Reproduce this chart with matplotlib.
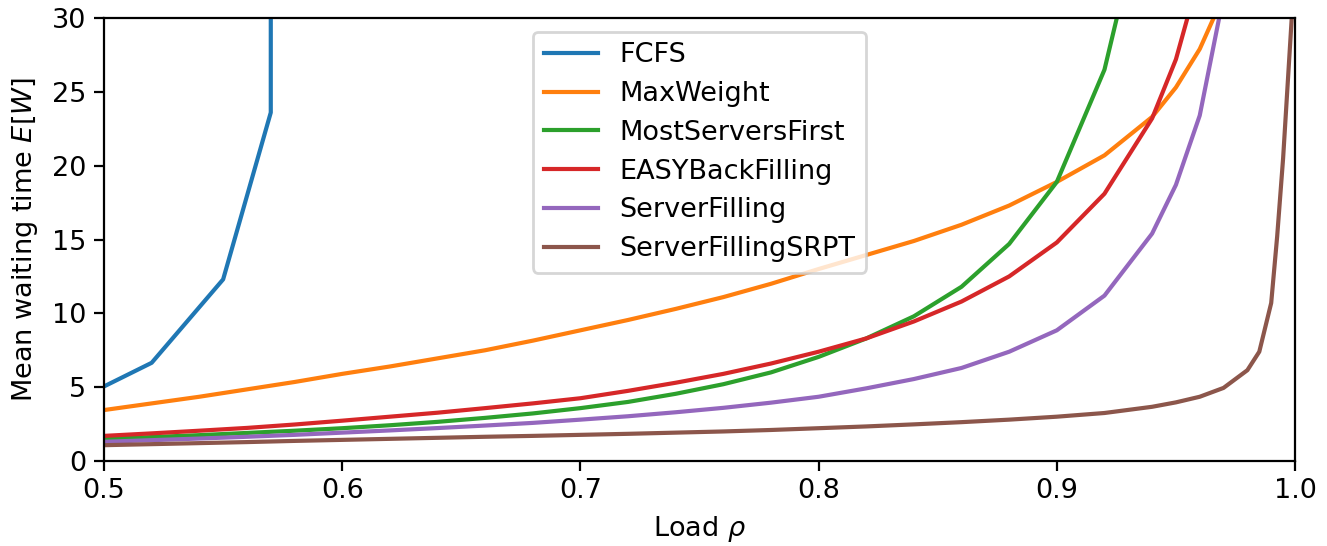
import numpy as np
import matplotlib
matplotlib.use("Agg")
import matplotlib.pyplot as plt

grid = [0.50, 0.52, 0.54, 0.56, 0.58, 0.60, 0.62, 0.64, 0.66, 0.68, 0.70,
        0.72, 0.74, 0.76, 0.78, 0.80, 0.82, 0.84, 0.86, 0.88, 0.90, 0.92, 0.94]

fcfs_x = [0.50, 0.52, 0.55, 0.57, 0.5701]
fcfs_y = [5.05, 6.65, 12.3, 23.6, 200.0]

maxweight_x = grid + [0.95, 0.96, 0.97]
maxweight_y = [3.45, 3.9, 4.35, 4.85, 5.35, 5.9, 6.4, 6.95, 7.5, 8.15, 8.85,
               9.55, 10.3, 11.1, 12.0, 13.0, 13.95, 14.9, 16.0, 17.3, 18.9, 20.7, 23.3,
               25.3, 27.9, 31.5]

msf_x = grid
msf_y = [1.5, 1.62, 1.75, 1.9, 2.05, 2.22, 2.42, 2.65, 2.92, 3.22, 3.58,
         4.0, 4.55, 5.2, 6.0, 7.05, 8.3, 9.8, 11.8, 14.7, 18.9, 26.5, 40.0]

easy_x = grid + [0.95, 0.96]
easy_y = [1.7, 1.87, 2.05, 2.24, 2.47, 2.73, 3.0, 3.27, 3.58, 3.9, 4.25,
          4.75, 5.3, 5.9, 6.6, 7.4, 8.3, 9.45, 10.8, 12.5, 14.8, 18.1, 23.2,
          27.2, 33.0]

sf_x = grid + [0.95, 0.96, 0.97]
sf_y = [1.3, 1.41, 1.52, 1.64, 1.77, 1.92, 2.07, 2.23, 2.4, 2.58, 2.8,
        3.03, 3.3, 3.6, 3.95, 4.35, 4.92, 5.55, 6.3, 7.4, 8.85, 11.2, 15.4,
        18.7, 23.4, 31.5]

sfsrpt_x = grid + [0.95, 0.96, 0.97, 0.98, 0.985, 0.99, 0.9925, 0.995, 0.999]
sfsrpt_y = [1.07, 1.14, 1.21, 1.28, 1.36, 1.43, 1.5, 1.57, 1.64, 1.7, 1.77,
            1.84, 1.92, 2.0, 2.1, 2.22, 2.34, 2.48, 2.63, 2.8, 3.0, 3.25, 3.67,
            3.97, 4.35, 4.95, 6.15, 7.4, 10.7, 15.2, 20.5, 31.0]

series = [
    ("FCFS", fcfs_x, fcfs_y),
    ("MaxWeight", maxweight_x, maxweight_y),
    ("MostServersFirst", msf_x, msf_y),
    ("EASYBackFilling", easy_x, easy_y),
    ("ServerFilling", sf_x, sf_y),
    ("ServerFillingSRPT", sfsrpt_x, sfsrpt_y),
]

plt.rcParams["font.size"] = 9.75
plt.rcParams["xtick.major.pad"] = 2.8
plt.rcParams["ytick.major.pad"] = 2.8

fig = plt.figure(figsize=(6.635, 2.73), dpi=200)
ax = fig.add_axes([0.0784, 0.1557, 0.9759 - 0.0784, 0.967 - 0.1557])
for name, xs, ys in series:
    ax.plot(xs, ys, label=name)

ax.set_xlim(0.5, 1.0)
ax.set_ylim(0, 30)
ax.set_xlabel(r"Load $\rho$", labelpad=3.5)
ax.set_ylabel(r"Mean waiting time $E[W]$", labelpad=4.5)
ax.legend(loc="upper center", labelspacing=0.47)
fig.savefig("out.png", dpi=200)
